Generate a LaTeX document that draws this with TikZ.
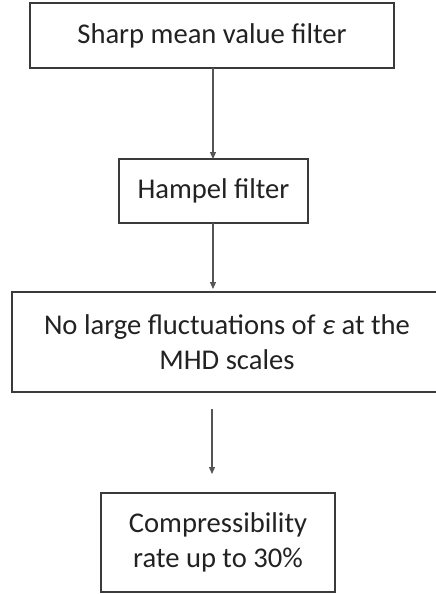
\documentclass[tikz,border=0pt]{standalone}
\usepackage{fontspec}
\setmainfont{Carlito}
\usetikzlibrary{arrows.meta}
\definecolor{boxline}{HTML}{3A3A3A}
\definecolor{arrline}{HTML}{555555}
\definecolor{txt}{HTML}{222222}
\begin{document}
\begin{tikzpicture}[x=1pt,y=-1pt,
  box/.style={draw=boxline,line width=1.5pt,fill=white,inner sep=0pt,outer sep=0pt,
    align=center,text=txt,font=\fontsize{28.6}{35}\selectfont},
  label/.style={inner sep=0pt,align=center,text=txt,font=\fontsize{28.6}{35}\selectfont},
  conn/.style={draw=arrline,line width=1.2pt,-{Triangle[length=7pt,width=6pt]}}]
\useasboundingbox (0,0) rectangle (436,594);
\fill[white] (0,0) rectangle (436,594);
\node[box,minimum width=364pt,minimum height=65pt] (b1) at (212,35.5) {Sharp mean value filter};
\node[box,minimum width=189pt,minimum height=64pt] (b2) at (213.5,191) {Hampel filter};
\node[box,minimum width=448pt,minimum height=100pt] (b3) at (236,342) {};
\node[label] (t3) at (227,342) {No large fluctuations of \textit{ε} at the\\MHD scales};
\node[box,minimum width=234pt,minimum height=99pt] (b4) at (218,542.5) {Compressibility\\rate up to 30\%};
\coordinate (s3) at (212,409);
\draw[conn] (b1.south -| 213,0) -- (b2.north -| 213,0);
\draw[conn,shorten >=3pt] (b2.south -| 213,0) -- (b3.north -| 213,0);
\draw[conn,shorten >=19pt] (s3) -- (s3 |- b4.north);
\end{tikzpicture}
\end{document}
